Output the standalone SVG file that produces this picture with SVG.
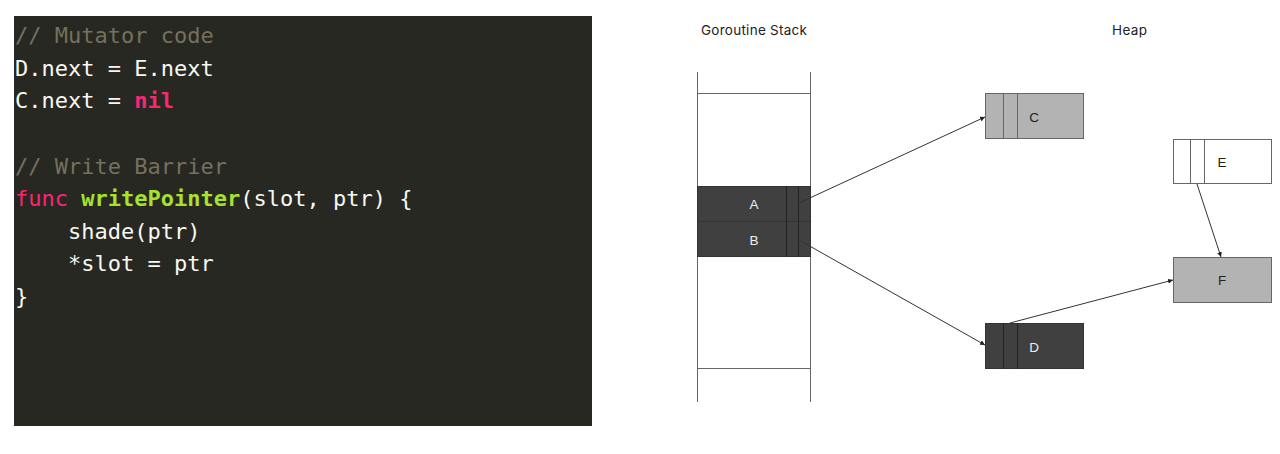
<svg xmlns="http://www.w3.org/2000/svg" width="1280" height="454" viewBox="0 0 1280 454">
  <style>
    .code { font-family: "DejaVu Sans Mono", "Liberation Mono", monospace; font-size: 22px; fill: #f8f8f2; white-space: pre; }
    .cm { fill: #75715e; }
    .kw { fill: #f92672; }
    .fn { fill: #a6e22e; }
    .hdr { font-family: "Inter", "Noto Sans", sans-serif; font-size: 13.5px; fill: #222222; }
    .lbl { font-family: "Liberation Sans", Arial, sans-serif; font-size: 13.5px; text-anchor: middle; dominant-baseline: central; }
    .dark { fill: #404040; stroke: #333333; stroke-width: 1; }
    .light { fill: #b3b3b3; stroke: #666666; stroke-width: 1; }
    .white { fill: #ffffff; stroke: #666666; stroke-width: 1; }
    .div-d { stroke: #222222; stroke-width: 1; }
    .div-l { stroke: #666666; stroke-width: 1; }
    .tw { fill: #eeeeee; }
    .tb { fill: #222222; }
    .stack { stroke: #666666; stroke-width: 1; fill: none; }
    .conn { stroke: #333333; stroke-width: 1; fill: none; marker-end: url(#arr); }
  </style>
  <defs>
    <marker id="arr" viewBox="0 0 6 6" refX="6" refY="3" markerWidth="5" markerHeight="5" orient="auto" markerUnits="userSpaceOnUse">
      <path d="M0,0 L6,3 L0,6 Z" fill="#222222"/>
    </marker>
  </defs>

  <g id="code-panel">
    <rect x="14" y="16" width="578" height="410" fill="#272822"/>
    <text class="code" x="15" y="43"><tspan class="cm">// Mutator code</tspan></text>
    <text class="code" x="15" y="75.5">D.next = E.next</text>
    <text class="code" x="15" y="108">C.next = <tspan class="kw" font-weight="bold">nil</tspan></text>
    <text class="code" x="15" y="174"><tspan class="cm">// Write Barrier</tspan></text>
    <text class="code" x="15" y="206"><tspan class="kw">func</tspan> <tspan class="fn" font-weight="bold">writePointer</tspan>(slot, ptr) {</text>
    <text class="code" x="15" y="239">    shade(ptr)</text>
    <text class="code" x="15" y="271">    *slot = ptr</text>
    <text class="code" x="15" y="304">}</text>
  </g>

  <g id="headers">
    <text class="hdr" x="701" y="35" textLength="106">Goroutine Stack</text>
    <text class="hdr" x="1112" y="35" textLength="35">Heap</text>
  </g>

  <g id="goroutine-stack">
    <line class="stack" x1="697.5" y1="72" x2="697.5" y2="402"/>
    <line class="stack" x1="810.5" y1="72" x2="810.5" y2="402"/>
    <line class="stack" x1="697" y1="93.5" x2="811" y2="93.5"/>
    <line class="stack" x1="697" y1="368.5" x2="811" y2="368.5"/>
  </g>

  <g id="node-A">
    <rect class="dark" x="697.5" y="186.5" width="113" height="35"/>
    <line class="div-d" x1="786.5" y1="186.5" x2="786.5" y2="221.5"/>
    <line class="div-d" x1="798.5" y1="186.5" x2="798.5" y2="221.5"/>
    <text class="lbl tw" x="754" y="204">A</text>
  </g>

  <g id="node-B">
    <rect class="dark" x="697.5" y="221.5" width="113" height="35"/>
    <line class="div-d" x1="786.5" y1="221.5" x2="786.5" y2="256.5"/>
    <line class="div-d" x1="798.5" y1="221.5" x2="798.5" y2="256.5"/>
    <text class="lbl tw" x="754" y="240">B</text>
  </g>

  <g id="node-C">
    <rect class="light" x="985.5" y="93.5" width="98" height="45"/>
    <line class="div-l" x1="1003.5" y1="93.5" x2="1003.5" y2="138.5"/>
    <line class="div-l" x1="1017.5" y1="93.5" x2="1017.5" y2="138.5"/>
    <text class="lbl tb" x="1034" y="117">C</text>
  </g>

  <g id="node-E">
    <rect class="white" x="1173.5" y="139.5" width="98" height="44"/>
    <line class="div-l" x1="1190.5" y1="139.5" x2="1190.5" y2="183.5"/>
    <line class="div-l" x1="1204.5" y1="139.5" x2="1204.5" y2="183.5"/>
    <text class="lbl tb" x="1222" y="162">E</text>
  </g>

  <g id="node-F">
    <rect class="light" x="1173.5" y="257.5" width="98" height="45"/>
    <text class="lbl tb" x="1222" y="280">F</text>
  </g>

  <g id="node-D">
    <rect class="dark" x="985.5" y="323.5" width="98" height="45"/>
    <line class="div-d" x1="1003.5" y1="323.5" x2="1003.5" y2="368.5"/>
    <line class="div-d" x1="1017.5" y1="323.5" x2="1017.5" y2="368.5"/>
    <text class="lbl tw" x="1034" y="347">D</text>
  </g>

  <g id="connectors">
    <line class="conn" x1="799" y1="203" x2="985" y2="117"/>
    <line class="conn" x1="799" y1="240" x2="985" y2="345"/>
    <line class="conn" x1="1010" y1="323" x2="1173" y2="280"/>
    <line class="conn" x1="1197" y1="184" x2="1221" y2="257"/>
  </g>
</svg>
